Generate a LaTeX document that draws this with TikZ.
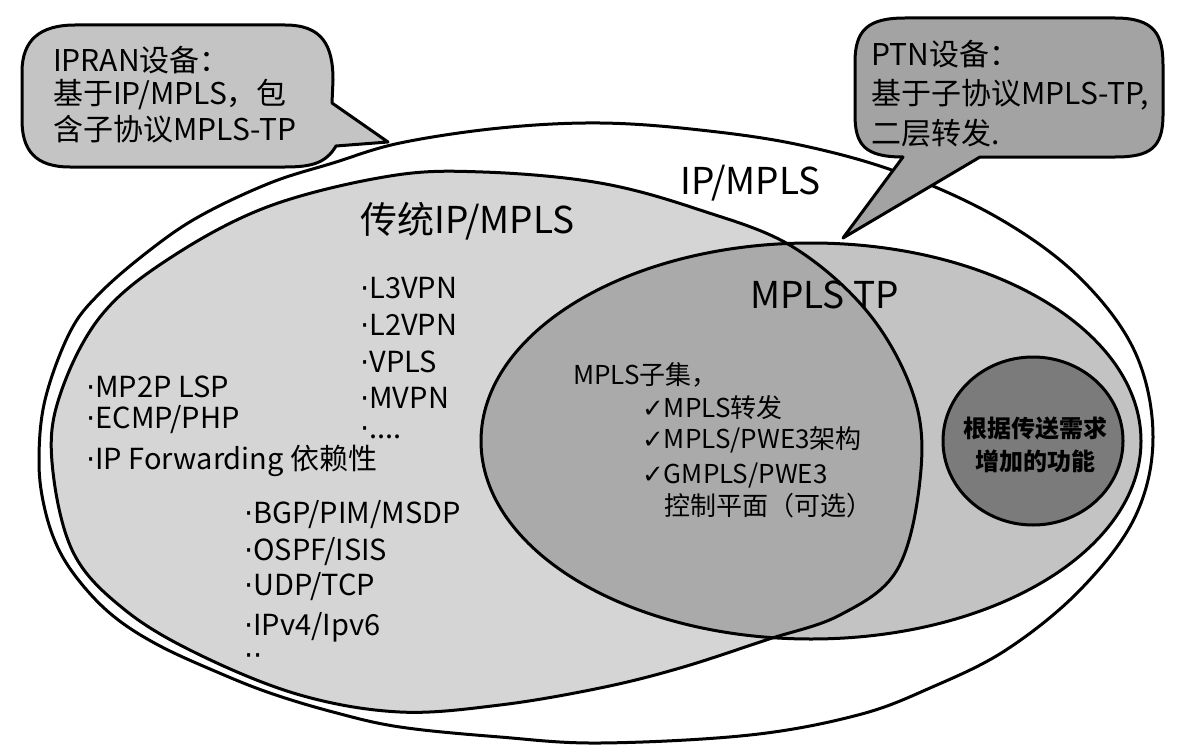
\documentclass[tikz,border=0pt]{standalone}
\usepackage{fontspec}
\setmainfont{Noto Sans CJK SC}
\newfontfamily\symf{DejaVu Sans}
\definecolor{bubA}{HTML}{C4C4C4}
\definecolor{bubB}{HTML}{A3A3A3}
\definecolor{tradg}{HTML}{D5D5D5}
\definecolor{tpg}{HTML}{C3C3C3}
\definecolor{lensg}{HTML}{AAAAAA}
\definecolor{dotg}{HTML}{7B7B7B}
\newcommand\OuterShape{plot[smooth cycle, tension=0.6] coordinates {(39,462) (45,400) (70,332) (100,293) (150,250) (200,216) (270,183) (333,163) (400,143) (500,128) (600,123) (700,130) (800,145) (900,173) (1000,219) (1080,278) (1135,352) (1153,437) (1135,517) (1080,590) (1006,650) (930,688) (858,715) (750,735) (600,743) (500,737) (400,727) (333,712) (270,693) (217,672) (160,646) (117,619) (85,588) (60,552) (45,510)}}
\newcommand\TradShape{plot[smooth cycle, tension=0.6] coordinates {(52,462) (60,395) (100,317) (167,260) (267,207) (390,176) (483,172) (600,183) (700,210) (793,247) (870,315) (915,400) (920,480) (897,570) (840,615) (766,640) (680,668) (600,688) (500,705) (400,712) (300,695) (200,655) (125,610) (73,552)}}
\newcommand\TpShape{(811,441) ellipse [x radius=330pt, y radius=198pt]}
\newcommand\dt{{\symf ·}}
\begin{document}
\begin{tikzpicture}[x=1pt,y=-1pt,
  outline/.style={draw=black, line width=3pt, line join=round},
  txt/.style={inner sep=0pt, anchor=west, text=black},
  title/.style={txt, font=\fontsize{37}{42}\selectfont},
  bub/.style={txt, font=\fontsize{30}{35}\selectfont},
  item/.style={txt, font=\fontsize{29}{34}\selectfont},
  lens/.style={txt, font=\fontsize{26}{30}\selectfont},
  circ/.style={inner sep=0pt, anchor=center, font=\fontsize{24}{28}\selectfont\bfseries}]
\useasboundingbox (0,0) rectangle (1178,752);
\fill[white] (0,0) rectangle (1178,752);
% outer shape IP/MPLS
\path[outline, fill=white] \OuterShape;
% fills
\fill[tradg] \TradShape;
\fill[tpg] \TpShape;
\begin{scope}
  \clip \TradShape;
  \fill[lensg] \TpShape;
\end{scope}
\draw[outline] \TradShape;
\draw[outline] \TpShape;
% small circle
\path[outline, fill=dotg] (1033,441) ellipse [x radius=90pt, y radius=84pt];
% bubble 1
\path[outline, fill=bubA] (75,25) -- (285,25) .. controls (322,25) and (333,45) .. (333,80) -- (332,103) -- (388,142) -- (336,146) .. controls (326,163) and (312,167) .. (285,167) -- (70,167) .. controls (35,167) and (22,150) .. (22,120) -- (22,72) .. controls (22,40) and (40,25) .. (75,25) -- cycle;
% bubble 2
\path[outline, fill=bubB] (905,18) -- (1115,18) .. controls (1155,18) and (1163,35) .. (1163,65) -- (1163,115) .. controls (1163,148) and (1150,157) .. (1115,157) -- (980,157) -- (843,238) -- (903,157) .. controls (865,157) and (855,145) .. (855,115) -- (855,62) .. controls (855,30) and (868,18) .. (905,18) -- cycle;
% bubble texts
\node[bub] (b1a) at (53,60) {IPRAN设备：};
\node[bub] (b1b) at (53,95) {基于IP/MPLS，包};
\node[bub] (b1c) at (53,129) {含子协议MPLS-TP};
\node[bub] (b2a) at (871,54) {PTN设备：};
\node[bub] (b2b) at (871,95) {基于子协议MPLS-TP,};
\node[bub] (b2c) at (871,133) {二层转发.};
% titles
\node[title] (tip) at (680,183) {IP/MPLS};
\node[title] (ttrad) at (360,221) {传统IP/MPLS};
\node[title] (ttp) at (750,295) {MPLS TP};
% lists
\node[item] (l1) at (360,288) {\dt L3VPN};
\node[item] (l2) at (360,325) {\dt L2VPN};
\node[item] (l3) at (360,362) {\dt VPLS};
\node[item] (l4) at (360,398) {\dt MVPN};
\node[item] (l5) at (360,433) {\dt ....};
\node[item] (m1) at (86,387) {\dt MP2P LSP};
\node[item] (m2) at (86,420) {\dt ECMP/PHP};
\node[item] (m3) at (86,461) {\dt IP Forwarding 依赖性};
\node[item] (n1) at (244,515) {\dt BGP/PIM/MSDP};
\node[item] (n2) at (244,552) {\dt OSPF/ISIS};
\node[item] (n3) at (244,587) {\dt UDP/TCP};
\node[item] (n4) at (244,627) {\dt IPv4/Ipv6};
\node[item] (n5) at (244,660) {\dt\dt};
% lens text
\node[lens] (s0) at (573,375) {MPLS子集，};
\node[lens] (s1) at (642,408) {{\symf ✓}MPLS转发};
\node[lens] (s2) at (642,440) {{\symf ✓}MPLS/PWE3架构};
\node[lens] (s3) at (642,475) {{\symf ✓}GMPLS/PWE3};
\node[lens] (s4) at (664,506) {控制平面（可选）};
% circle text
\node[circ] (c1) at (1035,428) {根据传送需求};
\node[circ] (c2) at (1035,461) {增加的功能};
\end{tikzpicture}
\end{document}
